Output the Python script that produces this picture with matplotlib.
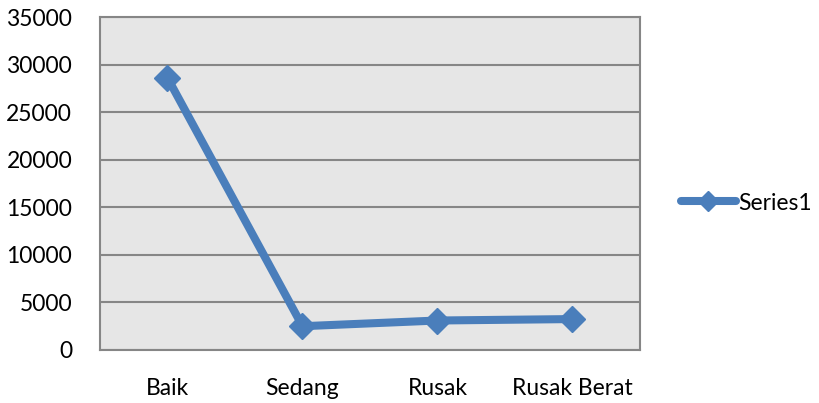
import matplotlib
matplotlib.use("Agg")
import matplotlib.pyplot as plt

categories = ["Baik", "Sedang", "Rusak", "Rusak Berat"]
values = [28600, 2500, 3100, 3250]
series_name = "Series1"
yticks = [0, 5000, 10000, 15000, 20000, 25000, 30000, 35000]

plt.rcParams['font.family'] = ['Lato', 'DejaVu Sans']

fig = plt.figure(figsize=(8.2, 4.03), dpi=100)
ax = fig.add_axes([100/820, 1 - 350/403, 540/820, 333/403])
ax.set_facecolor('#E6E6E6')
x = list(range(len(categories)))
line, = ax.plot(x, values, color='#4A7EBB', lw=5.8, marker='D', ms=13,
                solid_joinstyle='miter', label=series_name, zorder=3)
ax.set_xlim(-0.5, len(categories) - 0.5)
ax.set_ylim(0, 35000)
ax.set_yticks(yticks)
ax.set_yticklabels([str(v) for v in yticks])
ax.set_xticks(x)
ax.set_xticklabels(categories)
ax.grid(axis='y', color='#868686', lw=1.5)
ax.set_axisbelow(True)
for s in ax.spines.values():
    s.set_color('#868686')
    s.set_linewidth(1.5)
ax.tick_params(axis='both', length=0, labelsize=16.5, colors='black')
ax.tick_params(axis='y', pad=20)
ax.tick_params(axis='x', pad=20)
line.set_solid_capstyle('round')
fig.legend(handles=[line], labels=[series_name], loc='center left',
           bbox_to_anchor=(681/820, 1 - 203/403), frameon=False,
           fontsize=16.5, handlelength=2.4, handletextpad=0.1,
           borderaxespad=0, borderpad=0, markerscale=0.75)
fig.savefig("out.png", dpi=100)
